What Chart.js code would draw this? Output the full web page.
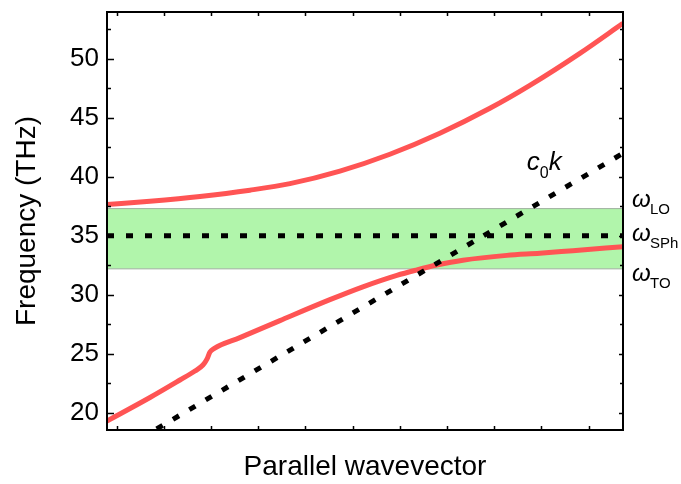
<!DOCTYPE html>
<html>
<head>
<meta charset="utf-8">
<script src="https://cdn.jsdelivr.net/npm/chart.js@4.4.0/dist/chart.umd.min.js"></script>
<style>
  html, body { margin: 0; padding: 0; background: #fff; }
</style>
</head>
<body>
<canvas id="dispersion" width="681" height="484"></canvas>
<script>
// Upper polariton branch
const upperK = [-0.205, 0.706, 1.765, 2.824, 3.672, 4.731, 5.790, 6.849, 7.909, 8.756, 9.816, 10.727];
const upperF = [37.65, 37.93, 38.33, 38.86, 39.41, 40.47, 41.90, 43.68, 45.79, 47.73, 50.44, 52.98];

// Lower polariton branch (with the small step near k = 2)
const lowerK = [-0.205, 0.706, 1.341, 1.659, 1.828, 1.913, 1.977, 2.061, 2.612, 3.460, 4.519,
                5.218, 5.938, 6.362, 6.786, 7.337, 8.269, 8.968, 9.667, 10.727];
const lowerF = [19.32, 21.31, 22.79, 23.55, 24.06, 24.56, 25.16, 25.45, 26.38, 27.82, 29.59,
                30.68, 31.65, 32.11, 32.52, 32.93, 33.34, 33.52, 33.74, 34.07];

// Light line c0*k
const lightK = [0.5, 10.73];
const lightF = [17.83, 41.98];

// Reststrahlen band and surface phonon
const omegaTO = 32.2;
const omegaLO = 37.3;
const omegaSPh = 35;

const kRange = [-0.205, 10.73];
const fRange = [18.56, 53.94];
const kTicks = [0, 1, 2, 3, 4, 5, 6, 7, 8, 9, 10];
const fTicks = [20, 25, 30, 35, 40, 45, 50];
const fMinorTicks = [22.5, 27.5, 32.5, 37.5, 42.5, 47.5, 52.5];

const levelNames = ['LO', 'SPh', 'TO'];
const levelValues = [omegaLO, omegaSPh, omegaTO];

const RED = '#ff5454';
const FONT = '"Liberation Sans", Arial, sans-serif';

const pts = (xs, ys) => xs.map((x, i) => ({ x: x, y: ys[i] }));
const flat = v => kRange.map(x => ({ x: x, y: v }));

// frame, inward ticks and the text annotations
const framePlugin = {
  id: 'frame',
  afterDraw(chart) {
    const { ctx, chartArea: a, scales: { x, y } } = chart;
    ctx.save();
    ctx.strokeStyle = '#000';
    ctx.lineWidth = 1.5;
    ctx.beginPath();
    fTicks.forEach(v => {
      const py = Math.round(y.getPixelForValue(v)) + 0.5;
      ctx.moveTo(a.left, py); ctx.lineTo(a.left + 7, py);
      ctx.moveTo(a.right, py); ctx.lineTo(a.right - 4, py);
    });
    fMinorTicks.forEach(v => {
      const py = Math.round(y.getPixelForValue(v)) + 0.5;
      ctx.moveTo(a.left, py); ctx.lineTo(a.left + 4, py);
      ctx.moveTo(a.right, py); ctx.lineTo(a.right - 3, py);
    });
    kTicks.forEach(v => {
      const px = Math.round(x.getPixelForValue(v)) + 0.5;
      ctx.moveTo(px, a.bottom); ctx.lineTo(px, a.bottom - 4);
      ctx.moveTo(px, a.top); ctx.lineTo(px, a.top + 4);
    });
    ctx.stroke();
    ctx.lineWidth = 2;
    ctx.strokeRect(a.left, a.top, a.right - a.left, a.bottom - a.top);

    // omega labels on the right
    const dys = [-2, 5, 12];
    levelNames.forEach((name, i) => {
      const base = y.getPixelForValue(levelValues[i]) + dys[i];
      ctx.fillStyle = '#000';
      ctx.textAlign = 'left';
      ctx.textBaseline = 'alphabetic';
      ctx.font = 'italic 24px ' + FONT;
      ctx.fillText('\u03c9', a.right + 9, base);
      ctx.font = '15px ' + FONT;
      ctx.fillText(name, a.right + 27, base + 7);
    });

    // c0 k label next to the light line
    const lx = x.getPixelForValue(8.69);
    const ly = y.getPixelForValue(40.54);
    ctx.font = 'italic 26px ' + FONT;
    ctx.fillText('c', lx, ly);
    const cw = ctx.measureText('c').width;
    ctx.font = '16px ' + FONT;
    ctx.fillText('0', lx + cw, ly + 8);
    const zw = ctx.measureText('0').width;
    ctx.font = 'italic 26px ' + FONT;
    ctx.fillText('k', lx + cw + zw, ly);
    ctx.restore();
  }
};

new Chart(document.getElementById('dispersion'), {
  type: 'line',
  data: {
    datasets: [
      {
        data: flat(omegaTO),
        borderColor: '#a0b0a0',
        borderWidth: 1,
        pointRadius: 0,
        fill: false,
        order: 3,
        clip: 0
      },
      {
        data: flat(omegaLO),
        borderColor: '#a0b0a0',
        borderWidth: 1,
        pointRadius: 0,
        backgroundColor: '#b1f5ab',
        fill: '-1',
        order: 3,
        clip: 0
      },
      {
        data: pts(upperK, upperF),
        borderColor: RED,
        borderWidth: 5,
        pointRadius: 0,
        cubicInterpolationMode: 'monotone',
        order: 1,
        clip: 0
      },
      {
        data: pts(lowerK, lowerF),
        borderColor: RED,
        borderWidth: 5,
        pointRadius: 0,
        cubicInterpolationMode: 'monotone',
        order: 1,
        clip: 0
      },
      {
        data: flat(omegaSPh),
        borderColor: '#000',
        borderWidth: 5,
        borderDash: [7, 12],
        borderCapStyle: 'butt',
        pointRadius: 0,
        order: 0,
        clip: 0
      },
      {
        data: pts(lightK, lightF),
        borderColor: '#000',
        borderWidth: 5,
        borderDash: [7, 12],
        borderCapStyle: 'butt',
        pointRadius: 0,
        order: 0,
        clip: 0
      }
    ]
  },
  options: {
    responsive: false,
    animation: false,
    layout: { padding: { top: 12, right: 58, bottom: 0, left: 0 } },
    plugins: { legend: { display: false }, tooltip: { enabled: false } },
    scales: {
      x: {
        type: 'linear',
        min: kRange[0],
        max: kRange[1],
        grid: { display: false, drawTicks: false },
        border: { display: false },
        ticks: { display: false },
        title: {
          display: true,
          text: 'Parallel wavevector',
          color: '#000',
          font: { family: FONT, size: 28 },
          padding: { top: 0, bottom: 0 }
        },
        afterFit(scale) { scale.height = 54; }
      },
      y: {
        type: 'linear',
        min: fRange[0],
        max: fRange[1],
        grid: { display: false, drawTicks: false },
        border: { display: false },
        afterBuildTicks(scale) { scale.ticks = fTicks.map(v => ({ value: v })); },
        ticks: {
          color: '#000',
          padding: 8,
          font: { family: FONT, size: 26 }
        },
        title: {
          display: true,
          text: 'Frequency (THz)',
          color: '#000',
          font: { family: FONT, size: 28 },
          padding: { top: 10, bottom: 0 }
        },
        afterFit(scale) {
          scale.width = 107;
          scale.paddingTop = 0;
          scale.paddingBottom = 0;
        }
      }
    }
  },
  plugins: [framePlugin]
});
</script>
</body>
</html>
